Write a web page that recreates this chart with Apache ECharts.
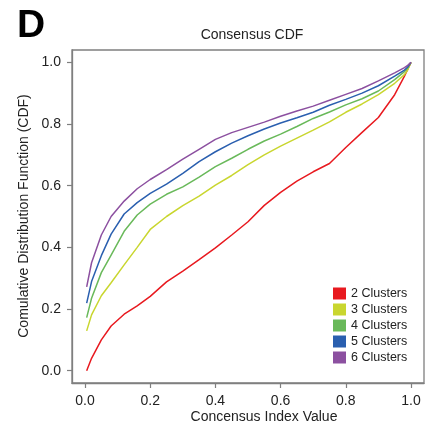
<!DOCTYPE html>
<html><head><meta charset="utf-8">
<script src="https://cdn.jsdelivr.net/npm/echarts@6/dist/echarts.min.js"></script>
<style>html,body{margin:0;padding:0;background:#fff}#c{width:428px;height:425px}</style>
</head><body><div id="c"></div>
<script>
const xValues  = [0.005,0.02,0.05,0.08,0.12,0.16,0.2,0.25,0.3,0.35,0.4,0.45,0.5,0.55,0.6,0.65,0.7,0.75,0.8,0.85,0.9,0.95,0.98,0.99,1.0];
const cluster2 = [0.0,0.04,0.10,0.145,0.183,0.21,0.241,0.288,0.323,0.36,0.398,0.44,0.483,0.536,0.578,0.615,0.645,0.672,0.724,0.773,0.821,0.895,0.955,0.978,1.0];
const cluster3 = [0.129,0.181,0.243,0.285,0.343,0.40,0.458,0.50,0.535,0.566,0.602,0.633,0.668,0.70,0.728,0.754,0.78,0.807,0.838,0.865,0.895,0.932,0.96,0.975,1.0];
const cluster4 = [0.172,0.235,0.318,0.375,0.452,0.505,0.54,0.572,0.596,0.628,0.662,0.689,0.718,0.745,0.767,0.792,0.818,0.839,0.862,0.882,0.907,0.944,0.97,0.982,1.0];
const cluster5 = [0.219,0.289,0.373,0.443,0.508,0.545,0.575,0.605,0.64,0.678,0.71,0.738,0.762,0.784,0.803,0.82,0.838,0.861,0.88,0.90,0.924,0.955,0.975,0.985,1.0];
const cluster6 = [0.272,0.35,0.44,0.50,0.55,0.59,0.62,0.652,0.686,0.718,0.75,0.772,0.789,0.806,0.825,0.842,0.858,0.877,0.896,0.915,0.94,0.966,0.983,0.99,1.0];
const seriesNames  = ['2 Clusters','3 Clusters','4 Clusters','5 Clusters','6 Clusters'];
const seriesValues = [cluster2, cluster3, cluster4, cluster5, cluster6];
const seriesColors = ['#E8191F','#C9D62F','#69B95A','#2A5FAF','#8C50A0'];
const tickValues = [0, 0.2, 0.4, 0.6, 0.8, 1.0];

const chart = echarts.init(document.getElementById('c'), null, {renderer:'canvas'});
const font = 'Liberation Sans, Arial, Helvetica, sans-serif';
const grey = '#7f7f7f';
const axisCommon = {
  type: 'value', min: -0.04, max: 1.04,
  axisLine: {show: true, onZero: false, lineStyle: {color: grey, width: 1.3}},
  axisTick: {show: true, inside: false, length: 5, lineStyle: {color: grey, width: 1.2}, customValues: tickValues},
  axisLabel: {customValues: tickValues, formatter: v => v.toFixed(1), color: '#222', fontSize: 14, fontFamily: font, margin: 11},
  splitLine: {show: false}
};
chart.setOption({
  animation: false,
  backgroundColor: '#fff',
  grid: {left: 72, right: 4, top: 50, bottom: 42, show: true, borderColor: grey, borderWidth: 1.3, backgroundColor: 'transparent'},
  xAxis: Object.assign({position: 'bottom'}, axisCommon),
  yAxis: Object.assign({position: 'left'}, axisCommon),
  legend: {
    orient: 'vertical', left: 333, top: 287, padding: 0, icon: 'rect', itemWidth: 13, itemHeight: 12, itemGap: 3,
    textStyle: {fontSize: 12.5, fontFamily: font, color: '#222', lineHeight: 12},
    data: seriesNames
  },
  graphic: [
    {type: 'text', x: 17, y: 26, style: {text: 'D', font: 'bold 39px ' + font, fill: '#000', textAlign: 'left', textVerticalAlign: 'middle'}},
    {type: 'text', x: 252, y: 35, style: {text: 'Consensus CDF', font: '14px ' + font, fill: '#222', textAlign: 'center', textVerticalAlign: 'middle'}},
    {type: 'text', x: 264, y: 417, style: {text: 'Concensus Index Value', font: '14px ' + font, fill: '#222', textAlign: 'center', textVerticalAlign: 'middle'}},
    {type: 'text', x: 24, y: 216, rotation: Math.PI/2, style: {text: 'Comulative Distribution Function (CDF)', font: '14px ' + font, fill: '#222', textAlign: 'center', textVerticalAlign: 'middle'}}
  ],
  series: seriesNames.map((name, i) => ({
    name, type: 'line', showSymbol: false, symbol: 'none', smooth: false,
    color: seriesColors[i],
    lineStyle: {width: 1.5, color: seriesColors[i]},
    data: xValues.map((x, j) => [x, seriesValues[i][j]])
  }))
});
</script></body></html>
